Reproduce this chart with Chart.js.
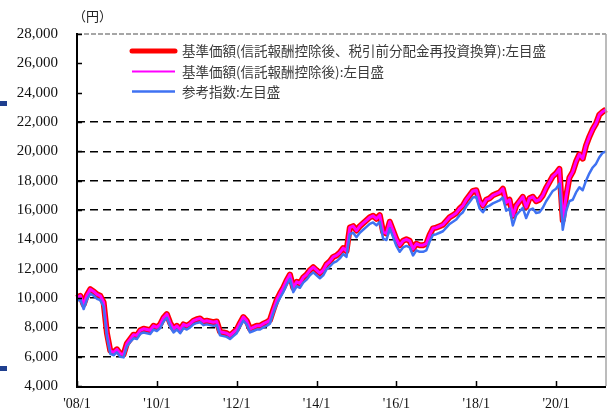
<!DOCTYPE html>
<html>
<head>
<meta charset="utf-8">
<script src="https://cdn.jsdelivr.net/npm/chart.js@4.4.1/dist/chart.umd.min.js"></script>
<style>
  html, body { margin: 0; padding: 0; background: #fff; }
  #wrap { width: 608px; height: 414px; position: relative; }
</style>
</head>
<body>
<div id="wrap"><canvas id="c" width="608" height="414"></canvas></div>
<script>
// ---- Data (monthly, 2008/1 .. 2021/4) ----
const startYear = 2008;
const monthCount = 160;
const categories = [];
for (let i = 0; i < monthCount; i++) {
  categories.push((startYear + Math.floor(i / 12)) + '/' + (i % 12 + 1));
}

// 基準価額（信託報酬控除後、税引前分配金再投資換算）
const navReinvested = [
  10000,10150,9550,10200,10600,10450,10250,10150,9700,7600,6400,6300,
  6500,6200,6150,6900,7200,7500,7450,7800,7900,7850,7800,8100,
  8000,8200,8650,8900,8300,7900,8100,7850,8200,8100,8250,8450,
  8550,8600,8400,8450,8400,8350,8400,7700,7650,7600,7450,7650,
  7850,8300,8700,8450,7900,8000,8100,8100,8250,8350,8500,9200,
  9850,10300,10700,11200,11600,10700,11100,11000,11400,11600,11900,12100,
  11900,11700,11900,12300,12500,12800,12900,13100,13400,13200,14800,14900,
  14600,14900,15100,15300,15500,15600,15400,15650,14500,14400,15200,14600,
  14000,13600,13900,14000,13900,13350,13700,13600,13600,13700,14300,14750,
  14800,14900,15000,15250,15500,15650,15800,16100,16300,16700,17000,17300,
  17350,16600,16300,16700,16800,17000,17100,17200,17450,16500,16700,15600,
  16300,16600,16900,16200,16800,16900,16600,16700,17000,17500,17900,18300,
  18500,18800,15300,16900,18200,18600,19300,19800,19500,20400,21000,21500,
  21900,22500,22700,22850
];
// 基準価額（信託報酬控除後）
const nav = [
  10000,10150,9550,10200,10600,10450,10250,10150,9700,7600,6400,6300,
  6500,6200,6150,6900,7200,7500,7450,7800,7900,7850,7800,8100,
  8000,8200,8650,8900,8300,7900,8100,7850,8200,8100,8250,8450,
  8550,8600,8400,8450,8400,8350,8400,7700,7650,7600,7450,7650,
  7850,8300,8700,8450,7900,8000,8100,8100,8250,8350,8500,9200,
  9850,10300,10700,11200,11600,10700,11100,11000,11400,11600,11900,12100,
  11900,11700,11900,12300,12500,12800,12900,13100,13400,13200,14800,14900,
  14600,14900,15100,15300,15500,15600,15400,15650,14500,14400,15200,14600,
  14000,13600,13900,14000,13900,13350,13700,13600,13600,13700,14300,14750,
  14800,14900,15000,15250,15500,15650,15800,16100,16300,16700,17000,17300,
  17350,16600,16300,16700,16800,17000,17100,17200,17450,16500,16700,15600,
  16300,16600,16900,16200,16800,16900,16600,16700,17000,17500,17900,18300,
  18500,18800,15300,16900,18200,18600,19300,19800,19500,20400,21000,21500,
  21900,22500,22700,22850
];
// 参考指数
const refIndex = [
  9800,9900,9250,9900,10300,10150,9950,9850,9400,7350,6200,6100,
  6300,6000,5950,6700,7000,7250,7200,7550,7650,7600,7550,7850,
  7750,7950,8400,8650,8050,7650,7850,7600,7950,7850,8000,8200,
  8300,8350,8150,8200,8150,8100,8150,7450,7400,7350,7200,7400,
  7600,8050,8450,8200,7650,7750,7850,7850,8000,8100,8250,8950,
  9550,10000,10400,10900,11300,10400,10800,10700,11050,11250,11550,11750,
  11550,11350,11550,11950,12150,12400,12500,12700,13000,12800,14350,14450,
  14150,14450,14650,14850,15050,15150,14950,15200,14050,13950,14750,14150,
  13550,13150,13450,13550,13450,12900,13250,13150,13150,13250,13850,14300,
  14350,14450,14550,14800,15050,15200,15350,15650,15850,16250,16550,16850,
  16900,16100,15850,16200,16300,16450,16550,16650,16850,15950,16100,14950,
  15650,15900,16150,15450,16000,16100,15800,15850,16150,16600,16950,17300,
  17450,17800,14650,15900,16600,16700,17200,17550,17350,18000,18500,18900,
  19150,19600,19900,20000
];

const seriesNames = [
  '基準価額(信託報酬控除後、税引前分配金再投資換算):左目盛',
  '基準価額(信託報酬控除後):左目盛',
  '参考指数:左目盛'
];
const xTickLabels = ["'08/1","'10/1","'12/1","'14/1","'16/1","'18/1","'20/1"];
const xTickCategories = ['2008/1','2010/1','2012/1','2014/1','2016/1','2018/1','2020/1'];
const yTickValues = [4000,6000,8000,10000,12000,14000,16000,18000,20000,22000,24000,26000,28000];
const yGridValues = [6000,8000,10000,12000,14000,16000,18000,20000,22000];
const yUnit = '（円）';

const colors = { red: '#ff0000', magenta: '#ff00ff', blue: '#3f72f2' };

const xTickIndex = xTickCategories.map(c => categories.indexOf(c));

const decor = {
  id: 'decor',
  afterDatasetsDraw(chart) {
    const { ctx, chartArea: a, scales: { x, y } } = chart;
    ctx.save();
    ctx.strokeStyle = '#a6a6a6';
    ctx.lineWidth = 2;
    ctx.setLineDash([5, 2]);
    ctx.beginPath();
    const yt = Math.round(y.getPixelForValue(28000));
    ctx.moveTo(a.left, yt); ctx.lineTo(a.right, yt); ctx.stroke();
    ctx.setLineDash([]);
    ctx.lineWidth = 1.5;
    ctx.beginPath();
    ctx.moveTo(a.right, yt); ctx.lineTo(a.right, a.bottom); ctx.stroke();
    ctx.strokeStyle = '#000';
    ctx.lineWidth = 2;
    ctx.beginPath();
    ctx.moveTo(a.left, yt - 1); ctx.lineTo(a.left, a.bottom + 1);
    ctx.lineTo(a.right, a.bottom + 1);
    ctx.stroke();
    ctx.lineWidth = 1.5;
    ctx.beginPath();
    yTickValues.forEach(v => {
      const py = Math.round(y.getPixelForValue(v)) + 0.5;
      ctx.moveTo(a.left, py); ctx.lineTo(a.left + 5, py);
    });
    xTickIndex.forEach(i => {
      const px = Math.round(x.getPixelForValue(i)) + 0.5;
      ctx.moveTo(px, a.bottom); ctx.lineTo(px, a.bottom - 5);
    });
    ctx.stroke();
    ctx.restore();
  },
  afterDraw(chart) {
    const { ctx } = chart;
    ctx.save();
    ctx.fillStyle = '#222';
    ctx.font = '13px "Noto Sans CJK JP"';
    ctx.textBaseline = 'middle';
    ctx.textAlign = 'left';
    ctx.fillText(yUnit, 73, 16);
    const items = [
      { c: colors.red, w: 5, y: 51 },
      { c: colors.magenta, w: 2, y: 71.5 },
      { c: colors.blue, w: 2.5, y: 91.5 }
    ];
    items.forEach((it, k) => {
      ctx.strokeStyle = it.c;
      ctx.lineWidth = it.w;
      ctx.lineCap = k === 0 ? 'round' : 'butt';
      ctx.beginPath();
      ctx.moveTo(132, it.y); ctx.lineTo(175, it.y); ctx.stroke();
      ctx.fillStyle = '#3a3a3a';
      ctx.font = '13.5px "Noto Sans CJK JP"';
      ctx.fillText(seriesNames[k], 182, it.y);
    });
    ctx.fillStyle = '#1f3f8f';
    ctx.fillRect(0, 101, 7, 5);
    ctx.fillRect(0, 366, 7, 5);
    ctx.restore();
  }
};

new Chart(document.getElementById('c'), {
  type: 'line',
  data: {
    labels: categories,
    datasets: [
      { label: seriesNames[0], data: navReinvested, borderColor: colors.red, borderWidth: 6, order: 3 },
      { label: seriesNames[1], data: nav, borderColor: colors.magenta, borderWidth: 3, order: 2 },
      { label: seriesNames[2], data: refIndex, borderColor: colors.blue, borderWidth: 2.5, order: 1 }
    ]
  },
  options: {
    responsive: false,
    animation: false,
    devicePixelRatio: 1,
    layout: { padding: { top: 34, right: 2, left: 0, bottom: 0 } },
    elements: { point: { radius: 0 }, line: { tension: 0, borderJoinStyle: 'round' } },
    plugins: { legend: { display: false }, tooltip: { enabled: false } },
    scales: {
      x: {
        type: 'category',
        offset: false,
        grid: { display: false, drawTicks: false },
        border: { display: false },
        ticks: {
          autoSkip: false, maxRotation: 0, minRotation: 0, padding: 10,
          color: '#111',
          font: { family: '"Liberation Serif"', size: 14 },
          callback: (v, i) => { const k = xTickIndex.indexOf(i); return k >= 0 ? xTickLabels[k] : ''; }
        },
        afterFit: s => { s.height = 25; s.paddingLeft = 0; s.paddingRight = 0; }
      },
      y: {
        min: 4000, max: 28000,
        afterBuildTicks: s => { s.ticks = yTickValues.map(v => ({ value: v })); },
        ticks: {
          padding: 19, color: '#111',
          font: { family: '"Liberation Serif"', size: 15 },
          callback: v => v.toLocaleString('en-US')
        },
        grid: {
          drawTicks: false,
          lineWidth: 1.5,
          color: c => (c.tick && yGridValues.includes(c.tick.value)) ? '#000' : 'rgba(0,0,0,0)'
        },
        border: { display: false, dash: [8, 5] },
        afterFit: s => { s.width = 77; }
      }
    }
  },
  plugins: [decor]
});
</script>
</body>
</html>
